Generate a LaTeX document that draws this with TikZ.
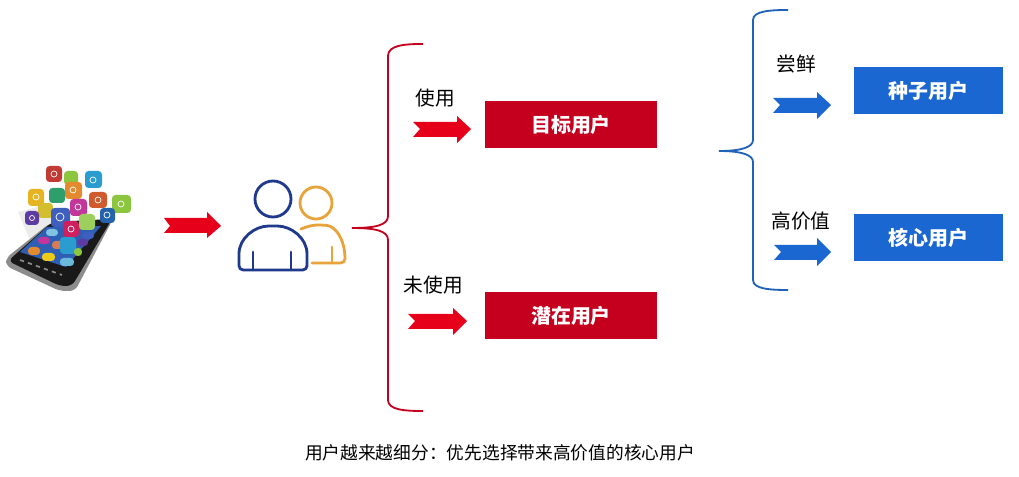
\documentclass[tikz,border=0pt]{standalone}
\usepackage{fontspec}
\setmainfont{Noto Sans CJK SC}
\usetikzlibrary{positioning}
\definecolor{boxred}{HTML}{C5001F}
\definecolor{arrowred}{HTML}{E60019}
\definecolor{boxblue}{HTML}{1B67D2}
\definecolor{braceblue}{HTML}{1F62B8}
\definecolor{userblue}{HTML}{1F3A8C}
\definecolor{userorange}{HTML}{E8A33A}
\definecolor{tilered}{HTML}{C23A34}
\definecolor{tilelime}{HTML}{8CC63F}
\definecolor{tilesky}{HTML}{2A9CD0}
\definecolor{tileorange}{HTML}{E38A2E}
\definecolor{tileteal}{HTML}{2E9E6B}
\definecolor{tileyellow}{HTML}{E6B422}
\definecolor{tilerust}{HTML}{CF5B2C}
\definecolor{tileolive}{HTML}{D2BE2E}
\definecolor{tilemagenta}{HTML}{C4379A}
\definecolor{tilepurple}{HTML}{5C3CA2}
\definecolor{tileblue}{HTML}{3F5FBE}
\definecolor{tilenavy}{HTML}{2462AE}
\definecolor{tilecrimson}{HTML}{CE205E}
\definecolor{screenblue}{HTML}{2F5FB4}
\tikzset{
  redbox/.style={fill=boxred,text=white,font=\fontsize{14.2}{16}\selectfont\bfseries,minimum width=4.3cm,minimum height=1.175cm},
  bluebox/.style={fill=boxblue,text=white,font=\fontsize{14.2}{16}\selectfont\bfseries,minimum width=3.725cm,minimum height=1.175cm},
  label/.style={font=\fontsize{14}{16}\selectfont,text=black},
  tile/.style={rounded corners=2.5pt},
  glyph/.style={draw=white,line width=0.5pt},
  userline/.style={line width=2pt,line cap=round,line join=round}
}
\begin{document}
\begin{tikzpicture}[x=0.025cm,y=-0.025cm]
\fill[white] (0,0) rectangle (1019,477);
\useasboundingbox (0,0) rectangle (1019,477);
\fill[black!8] (18,212) -- (45,205) -- (60,225) -- (30,240) -- cycle;
\fill[black!45,rounded corners=4pt] (50,223) -- (113,219) -- (75,291) -- (60,291) -- (6,266) -- (6,258) -- cycle;
\fill[black!90,rounded corners=4pt] (52,222) -- (112,219) -- (72,286) -- (60,286) -- (8,261) -- cycle;
\fill[screenblue] (47,227) -- (101,226) -- (66,267) -- (20,252) -- cycle;
\draw[black!45,line width=1.2pt,dashed] (20,260) -- (62,275);
\fill[tile,fill=tilesky!60] (46,229) rectangle +(12,7);
\fill[tile,fill=tilemagenta] (38,237) rectangle +(12,7);
\fill[tile,fill=tileorange] (28,247) rectangle +(12,8);
\fill[tile,fill=tileyellow!70!yellow] (42,253) rectangle +(13,8);
\fill[tile,fill=tilesky!70] (60,258) rectangle +(14,8);
\fill[tile,fill=tilerust!80] (52,241) rectangle +(11,8);
\fill[tile,fill=tilesky] (60,237) rectangle +(16,17);
\fill[tile,fill=tileblue] (82,232) rectangle +(12,7);
\fill[tile,fill=tilepurple] (77,239) rectangle +(11,7);
\fill[tile,fill=tilelime] (74,248) rectangle +(8,8);
\fill[tile,fill=tilered] (46,166) rectangle +(16,16);
\fill[tile,fill=tilelime] (64,171) rectangle +(14,14);
\fill[tile,fill=tilesky] (85,171) rectangle +(17,17);
\fill[tile,fill=tileorange] (65,182) rectangle +(17,17);
\fill[tile,fill=tileteal] (49,188) rectangle +(16,15);
\fill[tile,fill=tileyellow] (28,189) rectangle +(16,17);
\fill[tile,fill=tilerust] (89,192) rectangle +(18,16);
\fill[tile,fill=tilelime] (112,195) rectangle +(19,18);
\fill[tile,fill=tileolive] (38,203) rectangle +(15,15);
\fill[tile,fill=tilemagenta] (70,199) rectangle +(17,17);
\fill[tile,fill=tilepurple] (25,211) rectangle +(14,14);
\fill[tile,fill=tilenavy] (100,208) rectangle +(15,15);
\fill[tile,fill=tileblue] (51,208) rectangle +(19,19);
\fill[tile,fill=tilelime!85!white] (79,214) rectangle +(16,16);
\fill[tile,fill=tilecrimson] (63,221) rectangle +(16,16);
\draw[glyph] (54,174) circle (3);
\draw[glyph] (93,180) circle (3);
\draw[glyph] (73,190) circle (3);
\draw[glyph] (36,197) circle (3);
\draw[glyph] (98,200) circle (3);
\draw[glyph] (121,204) circle (3);
\draw[glyph] (78,207) circle (3);
\draw[glyph] (60,217) circle (4);
\draw[glyph] (107,215) circle (3);
\draw[glyph] (71,229) circle (3);
\draw[glyph] (32,218) circle (2.5);
\fill[arrowred] (164,218) -- (207,218) -- (207,212) -- (221,226) -- (207,238) -- (207,233) -- (164,233) -- (170,226) -- cycle;
\draw[userline,userblue] (273,199) circle (18);
\draw[userline,userblue] (253,252) -- (253,270);
\draw[userline,userblue] (291,252) -- (291,270);
\draw[userline,userblue,rounded corners=3pt] (239,270) -- (239,258) .. controls (239,238) and (255,226) .. (273,226) .. controls (291,226) and (307,238) .. (307,258) -- (307,270) -- cycle;
\draw[userline,userorange] (316,203) circle (16);
\draw[userline,userorange,rounded corners=3pt] (301,229) .. controls (308,226) and (314,225) .. (322,225) .. controls (336,226) and (345,240) .. (345,263) -- (312,263);
\draw[userline,userorange] (332,247) -- (332,263);
\draw[boxred,line width=1.3pt] (423,44) .. controls (405,44) and (388,45) .. (388,56) -- (388,216) .. controls (388,225) and (376,228) .. (352,228) .. controls (376,228) and (388,231) .. (388,240) -- (388,400) .. controls (388,410) and (405,411) .. (423,411);
\draw[braceblue,line width=1.3pt] (788,10) .. controls (770,10) and (753,11) .. (753,20) -- (753,140) .. controls (753,147) and (742,151) .. (719,151) .. controls (742,151) and (753,155) .. (753,162) -- (753,280) .. controls (753,289) and (770,290) .. (788,290);
\node[label] (use) at (435,98) {使用};
\fill[arrowred] (413,122) -- (457,122) -- (457,116) -- (471,129) -- (457,143) -- (457,137) -- (413,137) -- (420,129) -- cycle;
\node[redbox] (target) at (571,124.5) {目标用户};
\node[label] (unused) at (433.5,285) {未使用};
\fill[arrowred] (408,314) -- (453,314) -- (453,308) -- (467,321) -- (453,335) -- (453,329) -- (408,329) -- (415,321) -- cycle;
\node[redbox] (potential) at (571,315.5) {潜在用户};
\node[label] (taste) at (796,64) {尝鲜};
\fill[boxblue] (773,98) -- (817,98) -- (817,92) -- (831,105) -- (817,119) -- (817,113) -- (773,113) -- (780,105) -- cycle;
\node[bluebox] (seed) at (928.5,90.5) {种子用户};
\node[label] (value) at (801,221) {高价值};
\fill[boxblue] (774,245) -- (817,245) -- (817,238) -- (831,252) -- (817,266) -- (817,260) -- (774,260) -- (781,252) -- cycle;
\node[bluebox] (core) at (928.5,237.5) {核心用户};
\node[font=\fontsize{12.6}{15}\selectfont,text=black] (caption) at (500,453) {用户越来越细分：优先选择带来高价值的核心用户};
\end{tikzpicture}
\end{document}
